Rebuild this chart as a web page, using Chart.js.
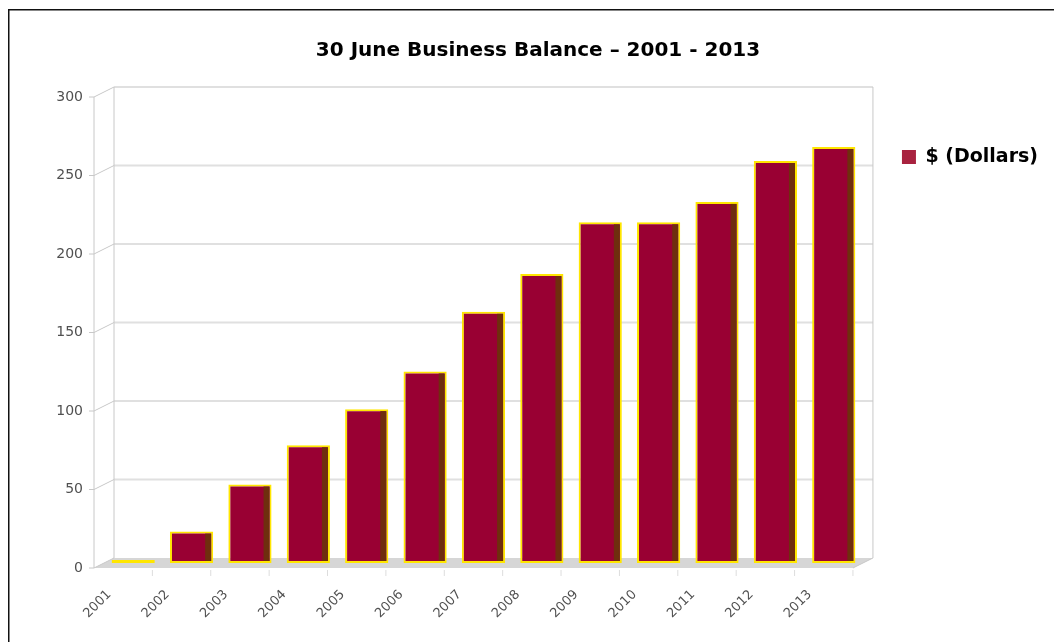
<!DOCTYPE html>
<html lang="en">
<head>
  <meta charset="UTF-8">
  <title>30 June Business Balance</title>
  <script src="https://cdn.jsdelivr.net/npm/chart.js"></script>
  <style>
    html, body { margin: 0; padding: 0; background: #fff; }
    .chart-container { position: relative; width: 1054px; height: 642px; }
  </style>
</head>
<body>
  <div class="chart-container">
    <canvas id="balanceChart"></canvas>
  </div>

  <script>
    // data
    const years = ["2001", "2002", "2003", "2004", "2005", "2006", "2007",
                   "2008", "2009", "2010", "2011", "2012", "2013"];
    const dollars = [0, 20, 50, 75, 98, 122, 160, 184, 217, 217, 230, 256, 265];
    const seriesLabel = "$ (Dollars)";
    const chartTitle = "30 June Business Balance \u2013 2001 - 2013";

    // fake depth of the 3d box
    const DX = 10, DY = 5;

    function line(ctx, x1, y1, x2, y2) {
      ctx.beginPath();
      ctx.moveTo(x1, y1);
      ctx.lineTo(x2, y2);
      ctx.stroke();
    }

    const boxPlugin = {
      id: "box3d",
      beforeDatasetsDraw(chart) {
        const { ctx, chartArea: a, scales: { x, y } } = chart;
        const y0 = y.getPixelForValue(y.min);
        const yTop = y.getPixelForValue(y.max);
        ctx.save();

        // floor
        ctx.fillStyle = "#d6d6d6";
        ctx.beginPath();
        ctx.moveTo(a.left - DX, y0 + DY);
        ctx.lineTo(a.left + DX, y0 - DY);
        ctx.lineTo(a.right + DX, y0 - DY);
        ctx.lineTo(a.right - DX, y0 + DY);
        ctx.closePath();
        ctx.fill();

        // back wall grid + left wall diagonals
        y.ticks.forEach(t => {
          const py = y.getPixelForValue(t.value);
          ctx.strokeStyle = "#e0e0e0";
          ctx.lineWidth = 2;
          if (t.value > y.min) line(ctx, a.left + DX, py - DY, a.right + DX, py - DY);
          ctx.strokeStyle = "#c8c8c8";
          ctx.lineWidth = 1;
          line(ctx, a.left - DX, py + DY, a.left + DX, py - DY);
          line(ctx, a.left - DX - 5, py + DY, a.left - DX, py + DY);
        });

        ctx.strokeStyle = "#c8c8c8";
        ctx.lineWidth = 1;
        line(ctx, a.left + DX, yTop - DY, a.left + DX, y0 - DY);
        line(ctx, a.left - DX, yTop + DY, a.left - DX, y0 + DY);
        line(ctx, a.right + DX, yTop - DY, a.right + DX, y0 - DY);
        line(ctx, a.right - DX, y0 + DY, a.right + DX, y0 - DY);

        // category ticks on the front edge of the floor
        const half = (x.getPixelForValue(1) - x.getPixelForValue(0)) / 2;
        ctx.strokeStyle = "#dddddd";
        years.forEach((yr, i) => {
          const px = x.getPixelForValue(i) + half - DX;
          line(ctx, px, y0 + DY + 2, px, y0 + DY + 8);
        });
        ctx.restore();
      },
      afterDatasetsDraw(chart) {
        // dark side of each bar
        const ctx = chart.ctx;
        ctx.save();
        chart.getDatasetMeta(0).data.forEach(bar => {
          const { x: cx, y: top, base, width } = bar.getProps(["x", "y", "base", "width"], true);
          if (base - top < 8) return;
          ctx.fillStyle = "#6f2e0e";
          ctx.fillRect(cx + width / 2 - 8, top + 2, 6, base - top - 4);
        });
        ctx.restore();
      },
      afterDraw(chart) {
        // frame line on top and left
        const ctx = chart.ctx;
        ctx.save();
        ctx.fillStyle = "#111";
        ctx.fillRect(8, 9, chart.width - 8, 1.5);
        ctx.fillRect(8, 9, 1.5, chart.height - 9);
        ctx.restore();
      }
    };

    const ctx = document.getElementById("balanceChart").getContext("2d");
    new Chart(ctx, {
      type: "bar",
      data: {
        labels: years,
        datasets: [{
          label: seriesLabel,
          data: dollars,
          backgroundColor: "#990033",
          borderColor: "#ffe600",
          borderWidth: 2,
          borderSkipped: false,
          minBarLength: 3,
          categoryPercentage: 1,
          barPercentage: 0.74
        }]
      },
      options: {
        responsive: true,
        maintainAspectRatio: false,
        animation: false,
        layout: { padding: { left: 28, right: 6, top: 0, bottom: 0 } },
        plugins: {
          title: {
            display: true,
            text: chartTitle,
            color: "#000",
            font: { family: "DejaVu Sans", size: 20, weight: "bold" },
            padding: { top: 39, bottom: 29 }
          },
          legend: {
            position: "right",
            align: "start",
            title: { display: true, text: " ", font: { size: 12, lineHeight: 1 }, padding: { top: 96.5, bottom: 0 } },
            labels: {
              boxWidth: 14,
              boxHeight: 14,
              padding: 39,
              color: "#000",
              font: { family: "DejaVu Sans", size: 19, weight: "bold" },
              generateLabels: (chart) => [{
                text: seriesLabel,
                fillStyle: "#a8223f",
                strokeStyle: "#a8223f",
                fontColor: "#000",
                lineWidth: 0,
                hidden: false,
                datasetIndex: 0
              }]
            }
          },
          tooltip: { enabled: false }
        },
        scales: {
          x: {
            grid: { display: false },
            border: { display: false },
            ticks: {
              color: "#505050",
              font: { family: "DejaVu Sans", size: 13 },
              minRotation: 45,
              maxRotation: 45,
              labelOffset: -24,
              padding: 16
            },
            afterFit: (s) => { s.height = 79; }
          },
          y: {
            min: 0,
            max: 300,
            grid: { display: false, drawTicks: false },
            border: { display: false },
            ticks: {
              stepSize: 50,
              color: "#505050",
              font: { family: "DejaVu Sans", size: 14 },
              padding: 21,
              labelOffset: 5
            },
            afterFit: (s) => { s.width = 76; }
          }
        }
      },
      plugins: [boxPlugin]
    });
  </script>
</body>
</html>
